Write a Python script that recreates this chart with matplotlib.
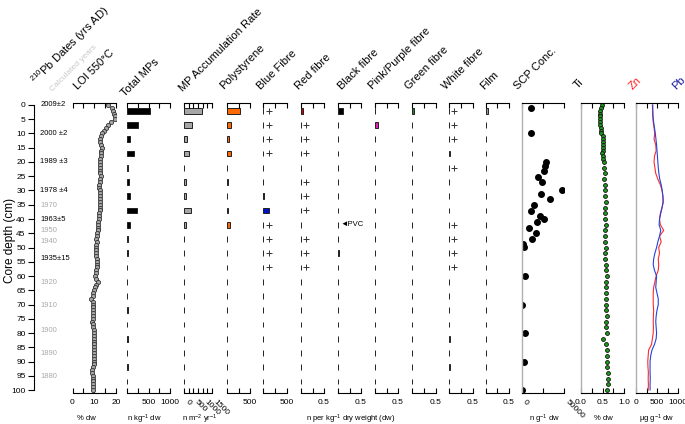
import matplotlib.pyplot as plt

plt.rcParams['font.family'] = ['Liberation Sans', 'DejaVu Sans']

W, H = 685, 424          # figure size in pixels
Y_TOP, Y_BOT = 103, 393  # top / bottom of the depth panels (px from top)
D_TOP, D_BOT = -0.7, 101.05

# ---- LOI 550 (% dw), one value per cm, 0-100 cm
loi_depth = list(range(0, 101))
loi = [16.5, 18.0, 18.5, 19.0, 19.5, 19.5, 17.5, 16.5, 15.5, 14.5,
       13.5, 13.0, 12.7, 12.8, 13.0, 13.4, 13.3, 13.2, 13.0, 12.8,
       12.6, 12.5, 12.7, 12.8, 12.6, 12.9, 12.7, 12.6, 12.4, 12.3,
       12.5, 12.6, 12.7, 12.6, 12.5, 12.6, 12.7, 12.6, 12.3, 12.0,
       12.1, 11.8, 11.6, 11.9, 11.5, 11.2, 11.4, 11.0, 11.2, 10.9,
       10.8, 11.0, 10.8, 11.0, 11.2, 11.3, 11.4, 11.2, 11.0, 10.8,
       10.5, 10.7, 11.6, 10.6, 10.2, 9.8, 9.6, 9.2, 8.7, 9.3,
       9.6, 9.4, 9.2, 9.6, 9.5, 9.3, 9.1, 9.4, 9.2, 9.8,
       10.0, 9.9, 9.7, 9.8, 10.0, 9.9, 9.8, 9.7, 9.8, 9.9,
       9.7, 9.8, 9.5, 9.0, 8.8, 9.3, 9.4, 9.3, 9.2, 9.3, 9.3]

# ---- microplastic samples (cm)
mp_depth = [2, 7, 12, 17, 22, 27, 32, 37, 42, 47,
            52, 57, 62, 67, 72, 77, 82, 87, 92, 97]
total_mp = [540, 250, 60, 155, 12, 45, 60, 230, 60, 12,
            30, 0, 0, 0, 12, 0, 30, 0, 30, 0]
mp_acc = [980, 445, 140, 270, 25, 130, 130, 360, 130, 0,
          0, 0, 0, 0, 0, 0, 0, 0, 0, 0]
polystyrene = [290, 85, 40, 85, 0, 20, 8, 20, 55, 0,
               0, 0, 0, 0, 0, 0, 0, 0, 0, 0]
blue_fibre = [0, 0, 0, 0, 0, 8, 18, 125, 0, 0,
              0, 0, 0, 0, 0, 0, 0, 0, 0, 0]
red_fibre = [0.05, 0, 0, 0, 0.008, 0, 0, 0, 0, 0,
             0, 0, 0, 0, 0, 0, 0, 0, 0, 0]
black_fibre = [0.1, 0.008, 0, 0, 0, 0, 0.008, 0.008, 0.008, 0,
               0.018, 0, 0, 0, 0.008, 0, 0, 0, 0, 0]
pink_fibre = [0, 0.06, 0.008, 0, 0, 0, 0, 0, 0, 0,
              0, 0, 0, 0, 0, 0, 0, 0, 0, 0]
green_fibre = [0.04, 0.008, 0, 0, 0, 0, 0, 0.008, 0, 0,
               0, 0, 0, 0, 0, 0, 0, 0, 0, 0]
white_fibre = [0, 0, 0, 0.016, 0, 0.008, 0.008, 0.008, 0, 0,
               0, 0, 0, 0, 0, 0, 0.016, 0, 0.016, 0]
film = [0.05, 0.008, 0, 0.008, 0.008, 0, 0, 0, 0, 0,
        0, 0, 0, 0, 0, 0, 0, 0, 0, 0]
# "+" = present, not counted
blue_plus = [2, 7, 12, 17, 42, 47, 52, 57]
red_plus = [7, 12, 17, 27, 32, 37, 47, 52, 57]
white_plus = [2, 7, 12, 22, 42, 47, 52, 57]

# ---- SCP concentration (n g-1 dw)
scp_depth = [1, 10, 20, 21.4, 23, 25.1, 27, 29.8, 31.1, 33.1, 35, 37.1, 38.8,
             39.9, 41, 43, 45, 47, 48.8, 49.9, 60, 70, 80, 90, 100]
scp = [10500, 10500, 28200, 27300, 25800, 19500, 23800, 47600, 22300, 33600,
       14100, 10500, 21800, 25800, 17600, 8200, 16800, 12400, 1900, 3000,
       3900, 0, 3500, 2700, 0]

# ---- Ti (% dw)
ti_depth = [0, 1, 2, 3, 4, 5, 6, 7, 8, 9, 10, 11, 12, 13, 14, 15, 16, 17, 18, 19, 20,
            22, 24, 26, 28, 30, 32, 34, 36, 38, 40, 42, 44, 46, 48, 50, 52, 54, 56, 58,
            60, 62, 64, 66, 68, 70, 72, 74, 76, 78, 80, 82, 84, 86, 88, 90, 92, 94, 96,
            98, 100]
ti = [0.48, 0.46, 0.45, 0.44, 0.44, 0.45, 0.44, 0.45, 0.46, 0.47, 0.46, 0.50, 0.51,
      0.50, 0.52, 0.51, 0.50, 0.48, 0.50, 0.52, 0.53,
      0.54, 0.55, 0.54, 0.55, 0.56, 0.55, 0.57, 0.56, 0.55, 0.56, 0.57, 0.55, 0.56,
      0.55, 0.57, 0.56, 0.55, 0.57, 0.58, 0.60, 0.57, 0.58, 0.58, 0.59, 0.58, 0.59,
      0.60, 0.58, 0.59, 0.60, 0.52, 0.59, 0.60, 0.61, 0.60, 0.61, 0.62, 0.63, 0.62, 0.61]

# ---- Zn and Pb (ug g-1 dw), every 2 cm
metal_depth = list(range(0, 101, 2))
pb = [400, 400, 405, 420, 440, 460, 475, 490, 500, 510, 520, 530, 545, 565, 600,
      625, 640, 645, 620, 590, 560, 550, 590, 560, 520, 490, 450, 420, 410, 440,
      490, 480, 470, 500, 530, 530, 500, 480, 470, 480, 490, 480, 440, 380, 350,
      335, 335, 335, 340, 335, 335]
zn = [390, 395, 400, 410, 430, 445, 430, 470, 480, 440, 430, 450, 470, 520, 580,
      620, 640, 650, 620, 580, 560, 580, 660, 560, 600, 540, 560, 530, 540, 530,
      480, 450, 420, 410, 410, 410, 420, 415, 410, 415, 410, 390, 370, 300, 290,
      280, 285, 295, 290, 295, 290]

# ---- 210Pb dates
date_depth = [0, 10, 20, 30, 35.4, 40, 44, 48, 54, 62.2, 70.2, 79.2, 87.1, 95.1]
date_text = ['2009±2', '2000 ±2', '1989 ±3', '1978 ±4', '1970', '1963±5', '1950',
             '1940', '1935±15', '1920', '1910', '1900', '1890', '1880']
date_measured = [True, True, True, True, False, True, False,
                 False, True, False, False, False, False, False]

fig = plt.figure(figsize=(W / 100, H / 100), dpi=100)


def px_axes(x0, x1):
    return fig.add_axes([x0 / W, 1 - Y_BOT / H, (x1 - x0) / W, (Y_BOT - Y_TOP) / H])


def panel(x0, x1, xmax, ticks, labels, grey_left=False, rot=0):
    ax = px_axes(x0, x1)
    ax.set_xlim(0, xmax)
    ax.set_ylim(D_BOT, D_TOP)
    ax.patch.set_alpha(0)
    ax.spines['right'].set_visible(False)
    if grey_left:
        ax.spines['left'].set_color('#b0b0b0')
        ax.spines['left'].set_linewidth(1.0)
    else:
        ax.spines['left'].set_visible(False)
    for s in ['top', 'bottom']:
        ax.spines[s].set_linewidth(0.8)
    ax.set_yticks([])
    ax.set_xticks(ticks)
    ax.set_xticklabels(labels)
    ax.tick_params(axis='x', direction='in', top=True, bottom=True,
                   length=3.5, width=0.8, labelsize=6, pad=4)
    if rot:
        for t in ax.get_xticklabels():
            t.set_rotation(rot)
            t.set_ha('left')
            t.set_va('top')
    return ax


def bars(ax, values, color, edge='#222222'):
    ax.barh(mp_depth, values, height=2.0, color=color, edgecolor=edge, linewidth=0.7)


def plus(ax, depths, x):
    ax.plot([x] * len(depths), depths, '+', color='#333333', ms=4, mew=0.7)


# depth axis + dates
axd = px_axes(34, 70)
axd.set_ylim(D_BOT, D_TOP)
axd.set_xlim(0, 1)
axd.patch.set_alpha(0)
for s in ['top', 'right', 'bottom']:
    axd.spines[s].set_visible(False)
axd.spines['left'].set_bounds(0, 100)
axd.spines['left'].set_linewidth(0.8)
axd.set_xticks([])
axd.set_yticks(range(0, 101, 5))
axd.tick_params(axis='y', length=4, width=0.8, labelsize=6, pad=2)
for d, t, m in zip(date_depth, date_text, date_measured):
    axd.text(0.17, d, t, fontsize=5.5, va='center', ha='left',
             color='black' if m else '#aaaaaa')
fig.text(10 / W, 1 - 240 / H, 'Core depth (cm)', rotation=90,
         ha='center', va='center', fontsize=8.5)

# LOI
ax = panel(72.5, 116, 20, [0, 5, 10, 15, 20], ['0', '', '10', '', '20'])
ax.plot(loi, loi_depth, 'o', ms=3, mfc='#a8a8a8', mec='#333333', mew=0.6)

# Total MPs
ax = panel(127, 170, 1000, [0, 250, 500, 750, 1000], ['', '', '500', '', '1000'])
bars(ax, total_mp, 'black')

# MP accumulation rate
ax = panel(184, 212, 1500, [0, 250, 500, 750, 1000, 1250, 1500],
           ['0', '', '500', '', '1000', '', '1500'], rot=-45)
bars(ax, mp_acc, '#a6a6a6')

# Polystyrene
ax = panel(227, 250, 500, [0, 250, 500], ['', '', '500'])
bars(ax, polystyrene, '#ff6a00')

# Blue fibre
ax = panel(263, 287, 500, [0, 250, 500], ['', '', '500'])
bars(ax, blue_fibre, '#0010c8')
plus(ax, blue_plus, 130)

fibre_ticks = [0, 0.25, 0.5]
fibre_labels = ['', '', '0.5']

ax = panel(301, 324, 0.5, fibre_ticks, fibre_labels)
bars(ax, red_fibre, '#c80000')
plus(ax, red_plus, 0.1)

ax = panel(338, 361, 0.5, fibre_ticks, fibre_labels)
bars(ax, black_fibre, 'black')
ax.text(0.045, 42, '◄PVC', fontsize=5.5, va='center', ha='left')

ax = panel(375, 398, 0.5, fibre_ticks, fibre_labels)
bars(ax, pink_fibre, '#e020b0')

ax = panel(412, 436, 0.5, fibre_ticks, fibre_labels)
bars(ax, green_fibre, '#1a8a1a')

ax = panel(449, 473, 0.5, fibre_ticks, fibre_labels)
bars(ax, white_fibre, 'white')
plus(ax, white_plus, 0.11)

ax = panel(486, 509, 0.5, fibre_ticks, fibre_labels)
bars(ax, film, '#999999')

# SCP
ax = panel(521.7, 564.3, 50000, [0, 25000, 50000], ['0', '', '50000'],
           grey_left=True, rot=-45)
ax.plot(scp, scp_depth, 'o', ms=4, color='black')

# Ti
ax = panel(581, 624, 1.0, [0, 0.25, 0.5, 0.75, 1.0], ['0.0', '', '0.5', '', '1.0'],
           grey_left=True)
ax.plot(ti, ti_depth, 'o', ms=2.8, mfc='#1c9a1c', mec='#111111', mew=0.6)

# Zn / Pb
ax = panel(636, 678, 1000, [0, 250, 500, 750, 1000], ['0', '', '500', '', '1000'],
           grey_left=True)
ax.plot(zn, metal_depth, color='#ff2a2a', lw=0.8)
ax.plot(pb, metal_depth, color='#2244dd', lw=0.8)

# column titles (rotated)
titles = [
    (28, 88, r'$\mathregular{^{210}}$Pb Dates (yrs AD)', 'black', 8),
    (49, 93, 'Calculated years', '#c8c8c8', 6),
    (72, 91, 'LOI 550°C', 'black', 8),
    (119, 98, 'Total MPs', 'black', 8),
    (177, 93, 'MP Accumulation Rate', 'black', 8),
    (218, 91, 'Polystyrene', 'black', 8),
    (255, 91, 'Blue Fibre', 'black', 8),
    (293, 91, 'Red fibre', 'black', 8),
    (336, 91, 'Black fibre', 'black', 8),
    (367, 91, 'Pink/Purple fibre', 'black', 8),
    (403, 91, 'Green fibre', 'black', 8),
    (440, 91, 'White fibre', 'black', 8),
    (478, 91, 'Film', 'black', 8),
    (512, 91, 'SCP Conc.', 'black', 8),
    (572, 90, 'Ti', 'black', 8),
    (627, 91, 'Zn', '#ff2020', 8),
    (670, 91, 'Pb', '#1a1aa0', 8),
]
for x, y, t, c, fs in titles:
    fig.text(x / W, 1 - y / H, t, rotation=45, ha='left', va='bottom',
             color=c, fontsize=fs)

# unit labels
units = [
    (86, '% dw'), (144, r'n kg$\mathregular{^{-1}}$ dw'),
    (200, r'n m$\mathregular{^{-2}}$ yr$\mathregular{^{-1}}$'),
    (351, r'n per kg$\mathregular{^{-1}}$ dry weight (dw)'),
    (544, r'n g$\mathregular{^{-1}}$ dw'), (603, '% dw'),
    (657, r'µg g$\mathregular{^{-1}}$ dw'),
]
for x, t in units:
    fig.text(x / W, 1 - 419 / H, t, ha='center', va='center', fontsize=5.5)

fig.savefig('out.png', dpi=100)
